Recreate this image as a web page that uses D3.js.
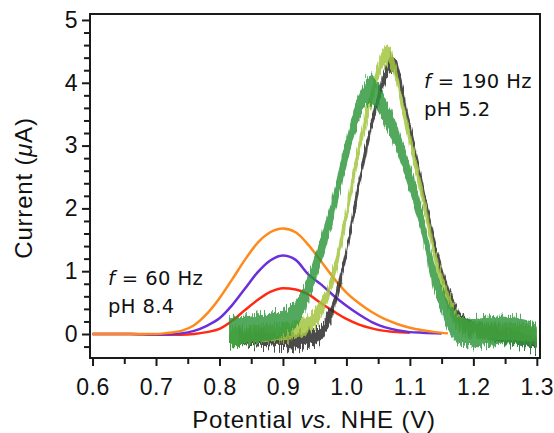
<!DOCTYPE html>
<html>
<head>
<meta charset="utf-8">
<script src="https://cdn.jsdelivr.net/npm/d3@7"></script>
<style>
  body { margin: 0; background: #fff; }
  .tick text { font-family: "Liberation Sans", Arial, sans-serif; font-size: 23px; fill: #111; letter-spacing: 0.5px; }
  .axis path, .axis line { stroke: #1a1a1a; stroke-width: 2px; }
  .title { font-family: "Liberation Sans", Arial, sans-serif; font-size: 24px; fill: #111; letter-spacing: 0.8px; }
  .note { font-family: "DejaVu Sans", Verdana, sans-serif; font-size: 19.5px; fill: #111; letter-spacing: 0.4px; }
</style>
</head>
<body>
<div id="chart"></div>
<script>
// smooth curves, f = 60 Hz, pH 8.4  [potential V, current uA]
var red60 = [[0.60,0.00],[0.66,0.00],[0.70,-0.01],[0.74,-0.01],[0.76,0.00],[0.78,0.03],[0.80,0.08],[0.82,0.21],[0.84,0.38],[0.86,0.54],[0.88,0.67],[0.90,0.73],[0.92,0.71],[0.94,0.63],[0.96,0.49],[0.98,0.36],[1.00,0.24],[1.02,0.15],[1.04,0.09],[1.06,0.05],[1.08,0.03],[1.10,0.02]];
var purple60 = [[0.60,0.00],[0.66,0.00],[0.70,-0.01],[0.74,0.01],[0.76,0.05],[0.78,0.13],[0.80,0.25],[0.82,0.46],[0.84,0.72],[0.86,0.98],[0.88,1.17],[0.90,1.25],[0.92,1.18],[0.94,0.95],[0.96,0.79],[0.98,0.61],[1.00,0.45],[1.02,0.31],[1.04,0.19],[1.06,0.11],[1.08,0.06],[1.10,0.03],[1.12,0.02],[1.15,0.01]];
var orange60 = [[0.60,0.00],[0.65,0.00],[0.70,0.00],[0.72,0.02],[0.74,0.05],[0.76,0.14],[0.78,0.32],[0.80,0.57],[0.82,0.87],[0.84,1.18],[0.86,1.45],[0.88,1.62],[0.90,1.68],[0.92,1.62],[0.94,1.42],[0.96,1.16],[0.98,0.89],[1.00,0.66],[1.02,0.49],[1.04,0.35],[1.06,0.24],[1.08,0.16],[1.10,0.10],[1.12,0.06],[1.14,0.03],[1.16,0.01]];

// noisy curves, f = 190 Hz, pH 5.2
var black190 = [[0.83,-0.05],[0.86,-0.08],[0.89,-0.10],[0.92,-0.11],[0.94,-0.07],[0.96,0.03],[0.97,0.20],[0.98,0.45],[0.99,0.85],[1.00,1.30],[1.01,1.85],[1.02,2.40],[1.03,2.90],[1.04,3.35],[1.05,3.75],[1.06,4.10],[1.07,4.30],[1.078,4.25],[1.085,4.02],[1.095,3.52],[1.105,3.05],[1.115,2.58],[1.125,2.08],[1.135,1.60],[1.145,1.18],[1.155,0.82],[1.165,0.52],[1.175,0.32],[1.185,0.18],[1.20,0.08],[1.22,0.04],[1.24,0.00],[1.26,-0.04],[1.28,-0.10],[1.30,-0.18]];
var lime190 = [[0.815,-0.05],[0.84,-0.02],[0.86,0.00],[0.88,0.02],[0.90,0.04],[0.92,0.07],[0.94,0.15],[0.95,0.25],[0.96,0.40],[0.97,0.62],[0.98,0.95],[0.99,1.40],[1.00,1.90],[1.01,2.45],[1.02,2.95],[1.03,3.40],[1.04,3.80],[1.05,4.18],[1.06,4.42],[1.066,4.45],[1.072,4.33],[1.08,4.05],[1.09,3.55],[1.10,3.12],[1.11,2.65],[1.12,2.20],[1.13,1.70],[1.14,1.22],[1.15,0.85],[1.16,0.55],[1.17,0.30],[1.18,0.15],[1.20,0.06],[1.23,0.05],[1.26,0.04],[1.30,0.00]];
var green190 = [[0.815,0.03],[0.84,0.06],[0.86,0.09],[0.88,0.12],[0.90,0.17],[0.915,0.26],[0.93,0.48],[0.94,0.72],[0.95,1.02],[0.96,1.34],[0.97,1.68],[0.98,2.05],[0.99,2.48],[1.00,2.90],[1.01,3.30],[1.02,3.62],[1.03,3.82],[1.04,3.88],[1.05,3.76],[1.06,3.56],[1.07,3.35],[1.08,3.10],[1.09,2.80],[1.10,2.48],[1.11,2.15],[1.12,1.75],[1.13,1.25],[1.14,0.85],[1.15,0.55],[1.16,0.30],[1.17,0.12],[1.18,0.05],[1.20,0.02],[1.22,0.04],[1.24,0.06],[1.26,0.05],[1.28,0.01],[1.30,-0.04]];
// noise half-width of each noisy trace (uA)
var noise190 = [0.12, 0.14, 0.22];

var xMajor = [0.6, 0.7, 0.8, 0.9, 1.0, 1.1, 1.2, 1.3];
var xMinor = [0.65, 0.75, 0.85, 0.95, 1.05, 1.15, 1.25];
var yMajor = [0, 1, 2, 3, 4, 5];
var yMinor = [-0.2, 0.2, 0.4, 0.6, 0.8, 1.2, 1.4, 1.6, 1.8, 2.2, 2.4, 2.6, 2.8, 3.2, 3.4, 3.6, 3.8, 4.2, 4.4, 4.6, 4.8];

var W = 554, H = 433;
var pL = 90, pR = 540, pT = 14, pB = 358;

var svg = d3.select("#chart").append("svg").attr("width", W).attr("height", H);

var x = d3.scaleLinear().domain([0.596, 1.305]).range([pL, pR]);
var y = d3.scaleLinear().domain([-0.382, 5.095]).range([pB, pT]);

// jagged edges for the noisy traces
var defs = svg.append("defs");
var flt = defs.append("filter").attr("id", "jag")
    .attr("x", "-5%").attr("y", "-15%").attr("width", "110%").attr("height", "130%")
    .attr("color-interpolation-filters", "sRGB");
flt.append("feTurbulence").attr("type", "fractalNoise").attr("baseFrequency", "1.0 0.05")
    .attr("numOctaves", 2).attr("seed", 7).attr("result", "n");
flt.append("feColorMatrix").attr("in", "n").attr("type", "matrix")
    .attr("values", "0 0 0 0 0.5  0 1 0 0 0  0 0 0 0 0  0 0 0 0 1").attr("result", "m");
flt.append("feDisplacementMap").attr("in", "SourceGraphic").attr("in2", "m")
    .attr("scale", 22).attr("xChannelSelector", "R").attr("yChannelSelector", "G");

var clip = defs.append("clipPath").attr("id", "plot");
clip.append("rect").attr("x", pL).attr("y", pT).attr("width", pR - pL).attr("height", pB - pT);

var plot = svg.append("g").attr("clip-path", "url(#plot)");

var line = d3.line()
    .x(function(d) { return x(d[0]); })
    .y(function(d) { return y(d[1]); })
    .curve(d3.curveMonotoneX);

[[red60, "#ff2a14"], [purple60, "#6a30dc"], [orange60, "#ff8a1c"]].forEach(function(s) {
  plot.append("path").datum(s[0])
      .attr("d", line)
      .attr("fill", "none")
      .attr("stroke", s[1])
      .attr("stroke-width", 2.5);
});

[[black190, "#2c2c2c", 0.85], [lime190, "#a3c640", 0.85], [green190, "#2c963a", 0.82]].forEach(function(s, k) {
  var a = noise190[k];
  var band = d3.area()
      .x(function(d) { return x(d[0]); })
      .y0(function(d) { return y(d[1] - a); })
      .y1(function(d) { return y(d[1] + a); })
      .curve(d3.curveMonotoneX);
  plot.append("path").datum(s[0])
      .attr("d", band)
      .attr("fill", s[1])
      .attr("fill-opacity", s[2])
      .attr("filter", "url(#jag)");
});

// frame
svg.append("rect").attr("x", pL).attr("y", pT).attr("width", pR - pL).attr("height", pB - pT)
    .attr("fill", "none").attr("stroke", "#1a1a1a").attr("stroke-width", 2);

// axes
svg.append("g").attr("class", "axis").attr("transform", "translate(0," + pB + ")")
    .call(d3.axisBottom(x).tickValues(xMajor).tickSize(8).tickPadding(13)
      .tickFormat(function(d) { return d.toFixed(1); }));
svg.append("g").attr("class", "axis").attr("transform", "translate(0," + pB + ")")
    .call(d3.axisBottom(x).tickValues(xMinor).tickSize(6).tickFormat(""));
svg.append("g").attr("class", "axis").attr("transform", "translate(" + pL + ",0)")
    .call(d3.axisLeft(y).tickValues(yMajor).tickSize(8).tickPadding(4).tickFormat(d3.format("d")));
svg.append("g").attr("class", "axis").attr("transform", "translate(" + pL + ",0)")
    .call(d3.axisLeft(y).tickValues(yMinor).tickSize(6).tickFormat(""));
svg.selectAll(".axis .domain").remove();

// axis titles
var xt = svg.append("text").attr("class", "title").attr("x", 314).attr("y", 428).attr("text-anchor", "middle");
xt.append("tspan").text("Potential ");
xt.append("tspan").attr("font-style", "italic").text("vs.");
xt.append("tspan").text(" NHE (V)");

var yt = svg.append("text").attr("class", "title").attr("text-anchor", "middle")
    .attr("transform", "translate(32,188) rotate(-90)");
yt.append("tspan").text("Current (");
yt.append("tspan").attr("font-style", "italic").text("\u03bc");
yt.append("tspan").text("A)");

// annotations
function note(px, py, freq, ph) {
  var t = svg.append("text").attr("class", "note").attr("x", px).attr("y", py);
  t.append("tspan").attr("font-style", "italic").text("f");
  t.append("tspan").text(" = " + freq + " Hz");
  svg.append("text").attr("class", "note").attr("x", px).attr("y", py + 28).text("pH " + ph);
}
note(108, 285, 60, "8.4");
note(424, 88, 190, "5.2");
</script>
</body>
</html>
